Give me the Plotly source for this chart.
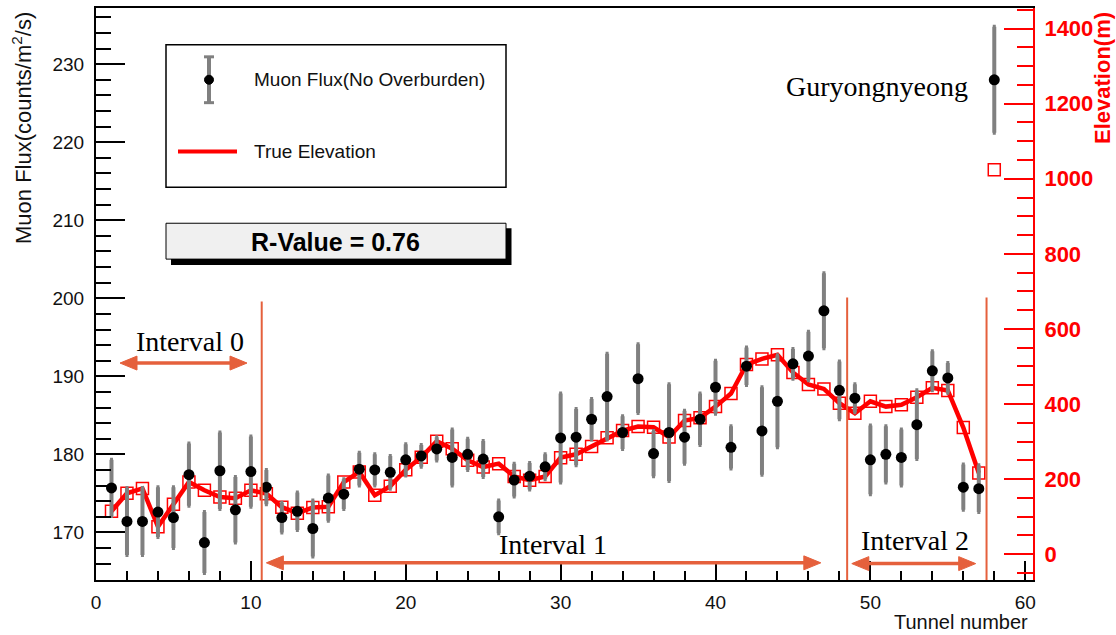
import plotly.graph_objects as go

# ---------------- data ----------------
tunnel = list(range(1, 59))
flux = [175.7, 171.4, 171.4, 172.6, 171.9, 177.4, 168.7, 177.9, 172.9, 177.8,
        175.8, 171.9, 172.7, 170.5, 174.4, 174.9, 178.1, 178.0, 177.7, 179.3,
        179.8, 180.7, 179.6, 180.0, 179.4, 172.0, 176.7, 177.2, 178.4, 182.1,
        182.2, 184.5, 187.4, 182.8, 189.7, 180.1, 182.8, 182.2, 184.5, 188.6,
        180.9, 191.3, 183.0, 186.8, 191.6, 192.6, 198.4, 188.2, 187.2, 179.3,
        180.0, 179.6, 183.8, 190.7, 189.8, 175.8, 175.6, 228.0]
flux_err = [3.6, 4.3, 4.3, 3.2, 3.9, 4.0, 3.9, 4.9, 4.2, 4.5,
            2.2, 1.9, 2.4, 3.6, 2.9, 1.9, 2.1, 2.0, 2.1, 2.0,
            1.4, 1.5, 3.6, 2.0, 2.3, 2.1, 2.1, 1.7, 1.6, 5.7,
            3.6, 2.6, 5.5, 2.1, 4.4, 2.9, 6.2, 3.4, 3.3, 3.4,
            2.7, 2.4, 5.6, 5.9, 1.9, 3.1, 4.8, 3.7, 1.8, 4.4,
            3.6, 3.6, 4.4, 2.5, 1.9, 2.9, 3.0, 6.8]
elevation = [114, 162, 175, 73, 133, 192, 170, 152, 149, 170,
             161, 125, 109, 124, 126, 192, 219, 157, 181, 225,
             258, 301, 281, 250, 232, 241, 207, 197, 207, 257,
             266, 287, 310, 329, 340, 338, 312, 356, 363, 393,
             428, 505, 520, 531, 484, 452, 440, 402, 375, 407,
             393, 398, 418, 443, 436, 337, 216, 1024]
n_line = 57  # the elevation line joins tunnels 1..57

interval_labels = ["Interval 0", "Interval 1", "Interval 2"]
interval_label_x = [6.07, 29.52, 52.9]
interval_label_y = [194.5, 168.4, 168.9]
arrow_start = [1.55, 11.0, 48.8]
arrow_end = [9.75, 46.8, 56.8]
arrow_y = [191.7, 166.1, 166.0]
boundary_x = [10.7, 48.5, 57.5]
boundary_top = [199.6, 200.1, 200.1]

site_label = "Guryongnyeong"
site_x, site_y = 50.4, 227.2

r_value_text = "R-Value = 0.76"
legend_labels = ["Muon Flux(No Overburden)", "True Elevation"]

# ---------------- layout helpers ----------------
W, H = 1116, 635
L, R, T, B = 96, 83, 6, 55
PW, PH = W - L - R, H - T - B
X_RANGE = [0, 60.5]
FLUX_RANGE = [163.9, 237.2]
ELEV_RANGE = [-69, 1455]


def px(xp):
    return (xp - L) / PW


def py(yp):
    return (H - B - yp) / PH


# pixel -> data-unit factors for arrowheads
X_PER_PX = (X_RANGE[1] - X_RANGE[0]) / PW
Y_PER_PX = (FLUX_RANGE[1] - FLUX_RANGE[0]) / PH
HEAD_LEN = 17 * X_PER_PX
HEAD_HALF = 7 * Y_PER_PX

SANS = "Liberation Sans, Arial, sans-serif"
SERIF = "Liberation Serif, Times New Roman, serif"
ORANGE = "#E5603C"
RED = "#FF0000"
GRAY = "#808080"

fig = go.Figure()

# elevation (base y axis, right side)
fig.add_trace(go.Scatter(
    x=tunnel[:n_line], y=elevation[:n_line], mode="lines",
    line=dict(color=RED, width=4.5), yaxis="y", showlegend=False,
    name=legend_labels[1]))
fig.add_trace(go.Scatter(
    x=tunnel, y=elevation, mode="markers",
    marker=dict(symbol="square-open", size=12, color=RED,
                line=dict(color=RED, width=1.5)),
    yaxis="y", showlegend=False))

# flux (overlay y axis, left side)
fig.add_trace(go.Scatter(
    x=tunnel, y=flux, mode="markers",
    marker=dict(size=1, color="rgba(0,0,0,0)"),
    error_y=dict(type="data", array=flux_err, visible=True,
                 color=GRAY, thickness=4, width=1.5),
    yaxis="y2", showlegend=False))
fig.add_trace(go.Scatter(
    x=tunnel, y=flux, mode="markers",
    marker=dict(size=11, color="black"),
    yaxis="y2", showlegend=False, name=legend_labels[0]))

shapes = []
annotations = []

# boundary lines
for bx, bt in zip(boundary_x, boundary_top):
    shapes.append(dict(type="line", xref="x", yref="y2", x0=bx, x1=bx,
                       y0=FLUX_RANGE[0], y1=bt, line=dict(color=ORANGE, width=2)))

# double-headed arrows (line + two filled heads)
for a0, a1, ay in zip(arrow_start, arrow_end, arrow_y):
    shapes.append(dict(type="line", xref="x", yref="y2",
                       x0=a0 + HEAD_LEN * 0.8, x1=a1 - HEAD_LEN * 0.8,
                       y0=ay, y1=ay, line=dict(color=ORANGE, width=3.5)))
    right_head = (f"M {a1},{ay} L {a1 - HEAD_LEN},{ay + HEAD_HALF} "
                  f"L {a1 - HEAD_LEN},{ay - HEAD_HALF} Z")
    left_head = (f"M {a0},{ay} L {a0 + HEAD_LEN},{ay + HEAD_HALF} "
                 f"L {a0 + HEAD_LEN},{ay - HEAD_HALF} Z")
    for p in (right_head, left_head):
        shapes.append(dict(type="path", xref="x", yref="y2", path=p,
                           fillcolor=ORANGE, line=dict(color=ORANGE, width=1)))

for lab, lx, ly in zip(interval_labels, interval_label_x, interval_label_y):
    annotations.append(dict(x=lx, y=ly, xref="x", yref="y2", text=lab,
                            showarrow=False, xanchor="center", yanchor="middle",
                            font=dict(family=SERIF, size=28, color="black")))

annotations.append(dict(x=site_x, y=site_y, xref="x", yref="y2", text=site_label,
                        showarrow=False, xanchor="center", yanchor="middle",
                        font=dict(family=SERIF, size=28, color="black")))

# legend box
shapes.append(dict(type="rect", xref="paper", yref="paper",
                   x0=px(166), x1=px(506), y0=py(186), y1=py(43),
                   line=dict(color="black", width=1.5), fillcolor="white",
                   layer="above"))
# legend icon: error bar with dot
shapes.append(dict(type="line", xref="paper", yref="paper",
                   x0=px(209), x1=px(209), y0=py(101), y1=py(55),
                   line=dict(color=GRAY, width=4)))
for cy in (55, 101):
    shapes.append(dict(type="line", xref="paper", yref="paper",
                       x0=px(204), x1=px(214), y0=py(cy), y1=py(cy),
                       line=dict(color=GRAY, width=3)))
shapes.append(dict(type="circle", xref="paper", yref="paper",
                   x0=px(204.5), x1=px(213.5), y0=py(82.5), y1=py(73.5),
                   line=dict(color="black", width=1), fillcolor="black"))
# legend icon: red line
shapes.append(dict(type="line", xref="paper", yref="paper",
                   x0=px(178), x1=px(237), y0=py(150), y1=py(150),
                   line=dict(color=RED, width=4)))
annotations.append(dict(x=px(252), y=py(78), xref="paper", yref="paper",
                        xanchor="left", yanchor="middle", text=legend_labels[0],
                        showarrow=False,
                        font=dict(family=SANS, size=19, color="#111")))
annotations.append(dict(x=px(252), y=py(150), xref="paper", yref="paper",
                        xanchor="left", yanchor="middle", text=legend_labels[1],
                        showarrow=False,
                        font=dict(family=SANS, size=19, color="#111")))

# R-value box with shadow
shapes.append(dict(type="rect", xref="paper", yref="paper",
                   x0=px(171), x1=px(511.5), y0=py(264), y1=py(227),
                   line=dict(color="black", width=0), fillcolor="black"))
shapes.append(dict(type="rect", xref="paper", yref="paper",
                   x0=px(166), x1=px(506), y0=py(258), y1=py(222),
                   line=dict(color="black", width=1), fillcolor="#F0F0F0"))
annotations.append(dict(x=px(335), y=py(240.5), xref="paper", yref="paper",
                        xanchor="center", yanchor="middle",
                        text="<b>" + r_value_text + "</b>", showarrow=False,
                        font=dict(family=SANS, size=25, color="black")))

# axis titles
annotations.append(dict(x=px(22), y=py(8), xref="paper", yref="paper",
                        xanchor="center", yanchor="top", textangle=-90,
                        text="Muon Flux(counts/m<sup>2</sup>/s)", showarrow=False,
                        font=dict(family=SANS, size=22, color="#111")))
annotations.append(dict(x=px(1103), y=py(8), xref="paper", yref="paper",
                        xanchor="center", yanchor="top", textangle=-90,
                        text="<b>Elevation(m)</b>", showarrow=False,
                        font=dict(family=SANS, size=22, color=RED)))
annotations.append(dict(x=px(1030), y=py(622), xref="paper", yref="paper",
                        xanchor="right", yanchor="middle",
                        text="Tunnel number", showarrow=False,
                        font=dict(family=SANS, size=20, color="#111")))

fig.update_layout(
    width=W, height=H,
    margin=dict(l=L, r=R, t=T, b=B, pad=0),
    paper_bgcolor="white", plot_bgcolor="white",
    showlegend=False,
    font=dict(family=SANS, color="#111"),
    shapes=shapes, annotations=annotations,
    xaxis=dict(range=X_RANGE, tickmode="linear", tick0=0, dtick=10,
               ticks="inside", ticklen=19, tickwidth=1.5, tickcolor="black",
               minor=dict(ticks="inside", dtick=2, tick0=0, ticklen=9,
                          tickwidth=1.5, tickcolor="black"),
               showline=True, linecolor="black", linewidth=2, mirror=True,
               showgrid=False, zeroline=False,
               tickfont=dict(family=SANS, size=19, color="#111"),
               ticklabelstandoff=4),
    yaxis=dict(range=ELEV_RANGE, side="right", tickmode="linear", tick0=0,
               dtick=200, ticks="inside", ticklen=29, tickwidth=1.5,
               tickcolor=RED,
               minor=dict(ticks="inside", dtick=50, tick0=0, ticklen=16,
                          tickwidth=1.5, tickcolor=RED),
               showline=True, linecolor=RED, linewidth=2,
               showgrid=False, zeroline=False,
               tickfont=dict(family=SANS, size=22, color=RED, weight="bold"),
               ticklabelstandoff=5),
    yaxis2=dict(range=FLUX_RANGE, side="left", overlaying="y",
                tickmode="linear", tick0=0, dtick=10,
                ticks="inside", ticklen=29, tickwidth=1.5, tickcolor="black",
                minor=dict(ticks="inside", dtick=2, tick0=0, ticklen=15,
                           tickwidth=1.5, tickcolor="black"),
                showline=True, linecolor="black", linewidth=2,
                showgrid=False, zeroline=False,
                tickfont=dict(family=SANS, size=19, color="#111"),
                ticklabelstandoff=6),
)

fig.write_html("out.html", config={"displayModeBar": False},
               post_script="document.body.style.margin='0px';")
